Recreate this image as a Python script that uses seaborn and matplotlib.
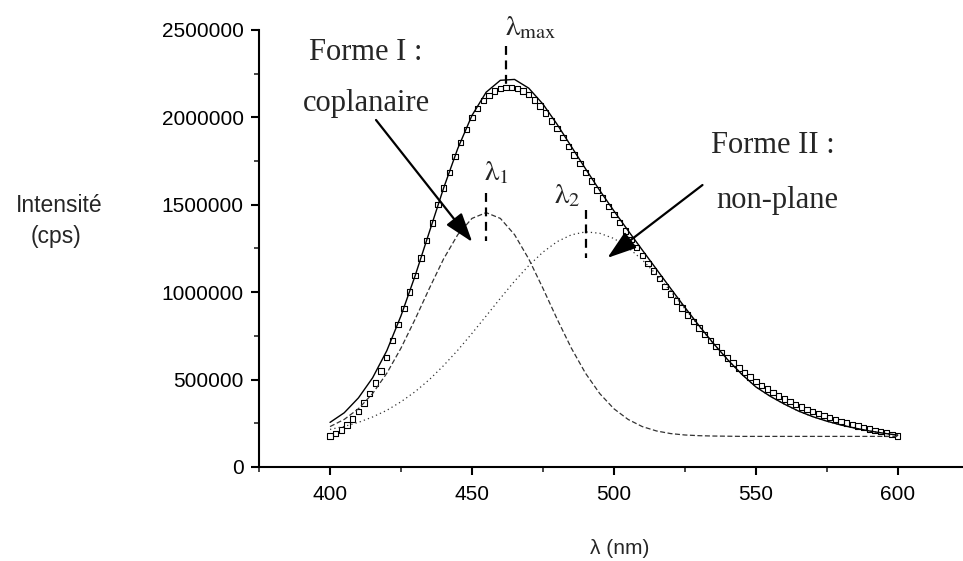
import numpy as np
import pandas as pd
import matplotlib
matplotlib.use('Agg')
import matplotlib.pyplot as plt
import seaborn as sns

# wavelength grids (nm)
wl_fit = list(range(400, 601, 5))
wl_exp = list(range(400, 601, 2))

# fitted curves, in thousands of cps
fit_sum = [255, 310, 395, 510, 665, 865, 1095, 1345, 1595, 1822,
           2011, 2144, 2212, 2217, 2167, 2076, 1960, 1833, 1706, 1582,
           1465, 1352, 1241, 1131, 1021, 913, 808, 708, 615, 531,
           458, 405, 360, 320, 288, 262, 240, 222, 206, 193, 182]
forme_1 = [231, 272, 333, 420, 536, 680, 846, 1022, 1190, 1329,
           1422, 1455, 1422, 1329, 1190, 1022, 846, 680, 536, 420,
           333, 272, 231, 206, 191, 183, 179, 177, 176, 175,
           175, 175, 175, 175, 175, 175, 175, 175, 175, 175, 175]
forme_2 = [215, 232, 255, 286, 324, 373, 431, 500, 580, 668,
           764, 864, 965, 1063, 1152, 1229, 1289, 1328, 1345, 1337,
           1307, 1255, 1185, 1100, 1005, 905, 804, 706, 614, 531,
           458, 405, 360, 320, 288, 262, 240, 222, 206, 193, 182]

# measured spectrum, thousands of cps
spectre = [178, 192, 212, 240, 275, 318, 365, 420, 480, 548,
           625, 722, 815, 908, 1000, 1095, 1195, 1295, 1395, 1500,
           1595, 1685, 1775, 1855, 1930, 2000, 2050, 2095, 2125, 2150,
           2165, 2172, 2172, 2165, 2150, 2130, 2100, 2065, 2025, 1980,
           1935, 1885, 1835, 1785, 1735, 1685, 1635, 1585, 1538, 1490,
           1443, 1397, 1350, 1303, 1256, 1210, 1165, 1121, 1077, 1034,
           990, 950, 910, 870, 832, 795, 758, 722, 688, 655,
           624, 595, 567, 540, 514, 490, 466, 445, 425, 406,
           389, 373, 358, 344, 330, 317, 305, 293, 282, 271,
           261, 252, 243, 234, 226, 218, 210, 202, 194, 186,
           178]

x_major = [400, 450, 500, 550, 600]
x_minor = [375, 425, 475, 525, 575, 625]
y_major = [0, 500000, 1000000, 1500000, 2000000, 2500000]
y_minor = [250000, 750000, 1250000, 1750000, 2250000]

# lambda markers: position (nm), top, bottom (cps)
lam_x = [462, 455, 490]
lam_top = [2410000, 1570000, 1470000]
lam_bot = [2160000, 1290000, 1195000]

df_fit = pd.DataFrame({'wl': wl_fit,
                       'somme': np.array(fit_sum) * 1000,
                       'forme1': np.array(forme_1) * 1000,
                       'forme2': np.array(forme_2) * 1000})
df_exp = pd.DataFrame({'wl': wl_exp, 'I': np.array(spectre) * 1000})

sns.set_style('ticks')
plt.rcParams['font.family'] = ['Liberation Sans', 'DejaVu Sans']
plt.rcParams['mathtext.fontset'] = 'stix'

fig = plt.figure(figsize=(9.63, 5.61), dpi=100)
ax = fig.add_axes([0.269, 0.1676, 0.737, 0.779])

sns.lineplot(data=df_fit, x='wl', y='forme2', ax=ax, color='#333333', lw=0.9,
             linestyle=(0, (1, 2.5)))
sns.lineplot(data=df_fit, x='wl', y='forme1', ax=ax, color='#333333', lw=0.9,
             linestyle=(0, (4, 2)))
sns.lineplot(data=df_fit, x='wl', y='somme', ax=ax, color='black', lw=1.0)
sns.scatterplot(data=df_exp, x='wl', y='I', ax=ax, marker='s', s=15,
                facecolors='none', edgecolor='black', linewidth=0.8)

for x, y0, y1 in zip(lam_x, lam_top, lam_bot):
    ax.plot([x, x], [y0, y1], color='black', lw=1.6, ls=(0, (4, 2.5)), clip_on=False)

ax.set_xlim(375, 625)
ax.set_ylim(0, 2500000)
ax.set_xticks(x_major)
ax.set_xticks(x_minor, minor=True)
ax.set_yticks(y_major)
ax.set_yticks(y_minor, minor=True)
ax.set_yticklabels([str(v) for v in y_major])
ax.tick_params(which='major', direction='out', length=6, width=1.5,
               labelsize=15, colors='black')
ax.tick_params(axis='x', which='major', pad=7)
ax.tick_params(axis='y', which='major', pad=5)
ax.tick_params(which='minor', direction='out', length=3.5, width=1.2)
sns.despine(ax=ax)
for side in ['left', 'bottom']:
    ax.spines[side].set_linewidth(1.5)
    ax.spines[side].set_color('black')
ax.set_xlabel('')
ax.set_ylabel('')

serif = ['Liberation Serif', 'DejaVu Serif']
ax.text(412.7, 2328000, 'Forme I :', family=serif, fontsize=22, ha='center', va='baseline')
ax.text(412.9, 2037000, 'coplanaire', family=serif, fontsize=22, ha='center', va='baseline')
ax.text(556, 1796000, 'Forme II :', family=serif, fontsize=22, ha='center', va='baseline')
ax.text(557.7, 1482000, 'non-plane', family=serif, fontsize=22, ha='center', va='baseline')

ax.text(461.5, 2471000, r'$\mathrm{\lambda}_{\mathrm{max}}$', fontsize=21, ha='left', va='baseline', clip_on=False)
ax.text(454.2, 1642000, r'$\mathrm{\lambda}_1$', fontsize=21, ha='left', va='baseline')
ax.text(479, 1510000, r'$\mathrm{\lambda}_2$', fontsize=21, ha='left', va='baseline')

arrow = dict(arrowstyle='-|>,head_length=0.9,head_width=0.3', lw=1.6,
             color='black', mutation_scale=20, shrinkA=0, shrinkB=0)
ax.annotate('', xy=(450.1, 1287000), xytext=(416.2, 1985000), arrowprops=arrow)
ax.annotate('', xy=(497.7, 1196000), xytext=(531.2, 1613000), arrowprops=arrow)

fig.text(59 / 963, 1 - 205 / 561, 'Intensité', fontsize=16.5, ha='center', va='center')
fig.text(56 / 963, 1 - 236 / 561, '(cps)', fontsize=16.5, ha='center', va='center')
fig.text(620 / 963, 1 - 548 / 561, 'λ (nm)', fontsize=15, ha='center', va='center')

fig.savefig('out.png', dpi=100)
